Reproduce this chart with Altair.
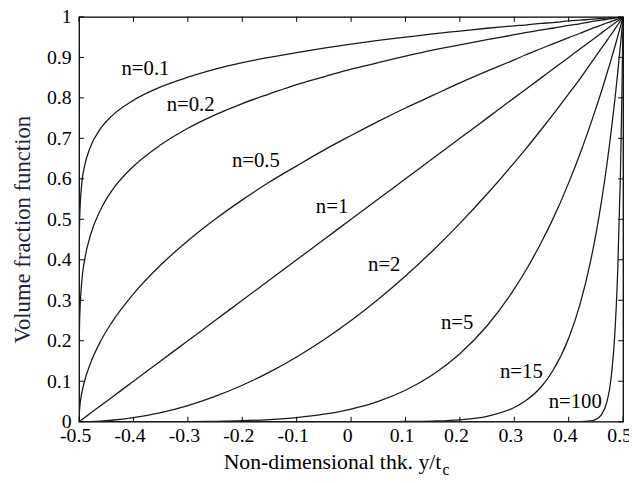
import altair as alt
import pandas as pd

# x positions (non-dimensional thickness y/tc)
xs = [-0.5, -0.4999, -0.499, -0.495, -0.49, -0.48, -0.46, -0.44, -0.4, -0.35,
      -0.3, -0.25, -0.2, -0.15, -0.1, -0.05, 0.0, 0.05, 0.1, 0.15,
      0.2, 0.25, 0.3, 0.32, 0.35, 0.37, 0.4, 0.42, 0.44, 0.45,
      0.46, 0.47, 0.475, 0.48, 0.485, 0.49, 0.495, 0.4975, 0.5]

n01 = [0, 0.398, 0.501, 0.589, 0.631, 0.676, 0.725, 0.755, 0.794, 0.827,
       0.851, 0.871, 0.887, 0.900, 0.912, 0.923, 0.933, 0.942, 0.950, 0.958,
       0.965, 0.972, 0.978, 0.980, 0.984, 0.986, 0.990, 0.992, 0.994, 0.995,
       0.996, 0.997, 0.9975, 0.998, 0.9985, 0.999, 0.9995, 0.9997, 1]
n02 = [0, 0.158, 0.251, 0.347, 0.398, 0.457, 0.525, 0.570, 0.631, 0.684,
       0.725, 0.758, 0.786, 0.810, 0.833, 0.852, 0.871, 0.887, 0.903, 0.918,
       0.931, 0.944, 0.956, 0.961, 0.968, 0.972, 0.979, 0.983, 0.988, 0.990,
       0.992, 0.994, 0.995, 0.996, 0.997, 0.998, 0.999, 0.9995, 1]
n05 = [0, 0.010, 0.032, 0.071, 0.100, 0.141, 0.200, 0.245, 0.316, 0.387,
       0.447, 0.500, 0.548, 0.592, 0.632, 0.671, 0.707, 0.742, 0.775, 0.806,
       0.837, 0.866, 0.894, 0.906, 0.922, 0.933, 0.949, 0.959, 0.970, 0.975,
       0.980, 0.985, 0.987, 0.990, 0.992, 0.995, 0.997, 0.999, 1]
n1 = [0, 0.0001, 0.001, 0.005, 0.01, 0.02, 0.04, 0.06, 0.1, 0.15,
      0.2, 0.25, 0.3, 0.35, 0.4, 0.45, 0.5, 0.55, 0.6, 0.65,
      0.7, 0.75, 0.8, 0.82, 0.85, 0.87, 0.9, 0.92, 0.94, 0.95,
      0.96, 0.97, 0.975, 0.98, 0.985, 0.99, 0.995, 0.9975, 1]
n2 = [0, 0, 0, 0, 0.0001, 0.0004, 0.0016, 0.0036, 0.01, 0.0225,
      0.04, 0.0625, 0.09, 0.1225, 0.16, 0.2025, 0.25, 0.3025, 0.36, 0.4225,
      0.49, 0.5625, 0.64, 0.672, 0.7225, 0.757, 0.81, 0.846, 0.884, 0.903,
      0.922, 0.941, 0.951, 0.960, 0.970, 0.980, 0.990, 0.995, 1]
n5 = [0, 0, 0, 0, 0, 0, 0, 0, 0.00001, 0.0001,
      0.0003, 0.001, 0.0024, 0.0053, 0.0102, 0.0185, 0.0313, 0.0503, 0.0778, 0.116,
      0.168, 0.237, 0.328, 0.371, 0.444, 0.498, 0.590, 0.659, 0.734, 0.774,
      0.815, 0.859, 0.881, 0.904, 0.927, 0.951, 0.975, 0.988, 1]
n15 = [0, 0, 0, 0, 0, 0, 0, 0, 0, 0,
       0, 0, 0, 0, 0, 0, 0.00003, 0.0001, 0.0005, 0.0016,
       0.0047, 0.0134, 0.0352, 0.051, 0.087, 0.124, 0.206, 0.286, 0.395, 0.463,
       0.542, 0.633, 0.684, 0.739, 0.797, 0.860, 0.928, 0.963, 1]
n100 = [0, 0, 0, 0, 0, 0, 0, 0, 0, 0,
        0, 0, 0, 0, 0, 0, 0, 0, 0, 0,
        0, 0, 0, 0, 0, 0, 0, 0.0002, 0.002, 0.0059,
        0.0169, 0.0476, 0.0795, 0.133, 0.221, 0.366, 0.606, 0.779, 1]

curve_names = ["n=0.1", "n=0.2", "n=0.5", "n=1", "n=2", "n=5", "n=15", "n=100"]
curve_values = [n01, n02, n05, n1, n2, n5, n15, n100]

label_text = ["n=0.1", "n=0.2", "n=0.5", "n=1", "n=2", "n=5", "n=15", "n=100"]
label_x = [-0.378, -0.295, -0.175, -0.035, 0.061, 0.195, 0.313, 0.412]
label_y = [0.870, 0.782, 0.643, 0.530, 0.387, 0.244, 0.122, 0.048]

x_ticks = [-0.5, -0.4, -0.3, -0.2, -0.1, 0, 0.1, 0.2, 0.3, 0.4, 0.5]
y_ticks = [0, 0.1, 0.2, 0.3, 0.4, 0.5, 0.6, 0.7, 0.8, 0.9, 1]

rows = []
for name, ys in zip(curve_names, curve_values):
    for x, y in zip(xs, ys):
        rows.append({"x": x, "y": y, "n": name})
df = pd.DataFrame(rows)

W, H = 551, 410
FONT = "Liberation Serif, Times New Roman, Times, DejaVu Serif, serif"
TICK = 5
x_scale = alt.Scale(domain=[-0.5, 0.5], nice=False, zero=False)
y_scale = alt.Scale(domain=[0, 1], nice=False, zero=False)

x_axis = alt.Axis(values=x_ticks, labelExpr="toString(datum.value)",
                  title=None, domain=False, ticks=False, tickSize=0,
                  grid=False, labelFont=FONT, labelFontSize=20,
                  labelColor="black", labelPadding=4, labelOffset=-4,
                  labelOverlap=False, labelFlush=False)
y_axis = alt.Axis(values=y_ticks, labelExpr="toString(datum.value)",
                  title="Volume fraction function", domain=False,
                  ticks=False, tickSize=0, grid=False, labelFont=FONT,
                  labelFontSize=20, labelColor="black", labelPadding=8,
                  labelOverlap=False, labelFlush=False,
                  titleFont=FONT, titleFontSize=23,
                  titleFontWeight="normal", titleColor="#1c2244",
                  titleX=-57, titleY=215, titleAngle=270,
                  titleAlign="center", titleBaseline="middle")

lines = alt.Chart(df).mark_line(color="#1a1a1a", strokeWidth=1.3,
                                interpolate="monotone", clip=True).encode(
    x=alt.X("x:Q", scale=x_scale, axis=x_axis),
    y=alt.Y("y:Q", scale=y_scale, axis=y_axis),
    detail="n:N",
)

lab_df = pd.DataFrame({"lx": label_x, "ly": label_y, "t": label_text})
labels = alt.Chart(lab_df).mark_text(font=FONT, fontSize=21, color="black").encode(
    x=alt.X("lx:Q", scale=x_scale, axis=x_axis),
    y=alt.Y("ly:Q", scale=y_scale, axis=y_axis),
    text="t:N",
)

xt = pd.DataFrame({"v": x_ticks})
yt = pd.DataFrame({"v": y_ticks})
rule = dict(color="black", strokeWidth=1)
bottom_ticks = alt.Chart(xt).mark_rule(**rule).encode(
    x=alt.X("v:Q", scale=x_scale, axis=x_axis), y=alt.value(H), y2=alt.value(H - TICK))
top_ticks = alt.Chart(xt).mark_rule(**rule).encode(
    x=alt.X("v:Q", scale=x_scale, axis=x_axis), y=alt.value(0), y2=alt.value(TICK))
left_ticks = alt.Chart(yt).mark_rule(**rule).encode(
    y=alt.Y("v:Q", scale=y_scale, axis=y_axis), x=alt.value(0), x2=alt.value(TICK))
right_ticks = alt.Chart(yt).mark_rule(**rule).encode(
    y=alt.Y("v:Q", scale=y_scale, axis=y_axis), x=alt.value(W), x2=alt.value(W - TICK))

xtitle = alt.Chart(pd.DataFrame({"t": ["Non-dimensional thk. y/t"]})).mark_text(
    font=FONT, fontSize=22, color="black", align="right", baseline="alphabetic"
).encode(x=alt.value(367), y=alt.value(458), text="t:N")
xsub = alt.Chart(pd.DataFrame({"t": ["c"]})).mark_text(
    font=FONT, fontSize=16, color="black", align="left", baseline="alphabetic"
).encode(x=alt.value(368), y=alt.value(464), text="t:N")

chart = alt.layer(
    lines, labels, bottom_ticks, top_ticks, left_ticks, right_ticks, xtitle, xsub
).properties(
    width=W, height=H,
    autosize=alt.AutoSizeParams(type="none"),
    padding={"left": 72, "top": 6, "right": 6, "bottom": 55},
    background="white",
).configure_view(stroke="black", strokeWidth=1.3)

chart.save("out.html", embed_options={"renderer": "svg", "actions": False})
